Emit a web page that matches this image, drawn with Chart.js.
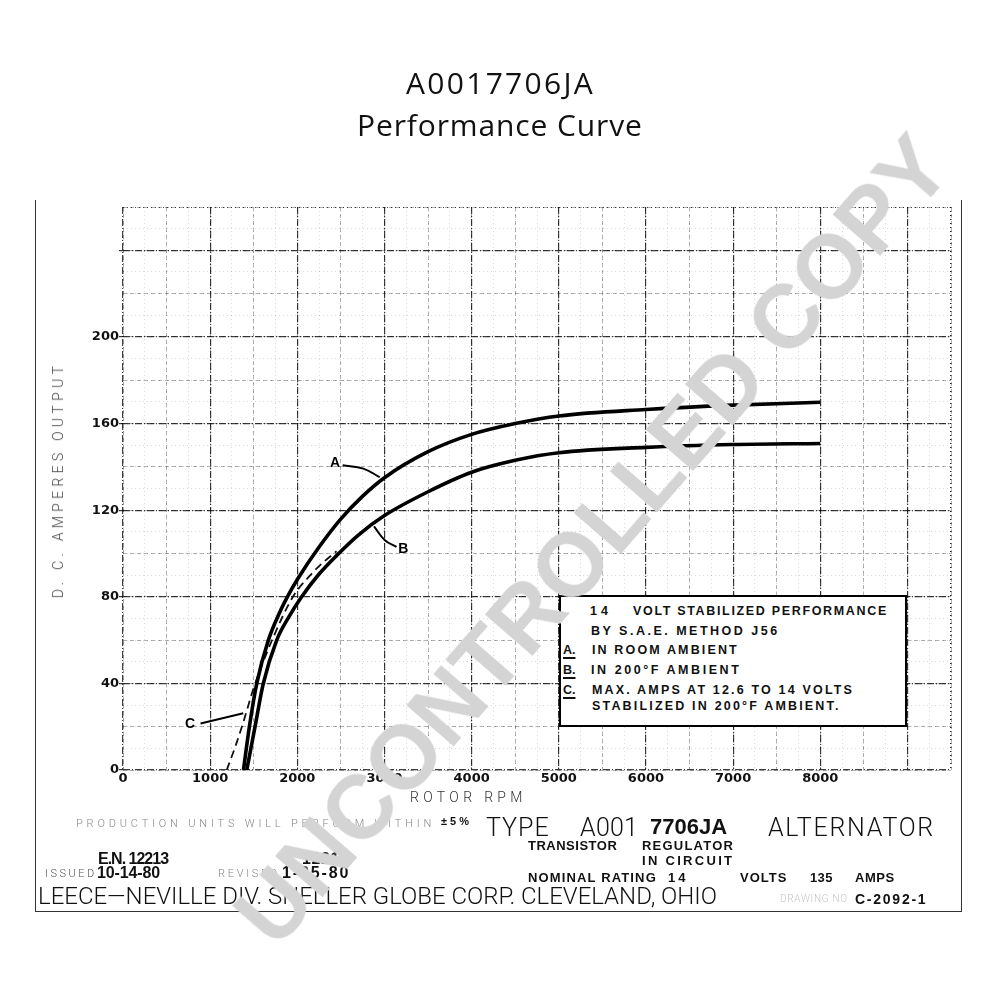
<!DOCTYPE html>
<html><head><meta charset="utf-8">
<script src="https://cdn.jsdelivr.net/npm/chart.js@4.4.1/dist/chart.umd.min.js"></script>
<style>
html,body{margin:0;padding:0;background:#fff;}
#wrap{position:relative;width:1000px;height:1000px;overflow:hidden;}
#c{position:absolute;left:0;top:0;}
.t{position:absolute;white-space:nowrap;line-height:1;color:#111;}
.thin{font-family:Roboto,"DejaVu Sans",sans-serif;font-weight:300;}
.bold{font-family:"Liberation Sans",Arial,sans-serif;font-weight:700;}
.narrow{font-family:"Liberation Sans Narrow","Liberation Sans",sans-serif;font-weight:700;}
#frame{position:absolute;left:35px;top:200px;width:927px;height:712px;border-left:1.5px solid #333;border-right:1.5px solid #333;border-bottom:1.5px solid #333;box-sizing:border-box;}
#legend{position:absolute;left:559px;top:595px;width:348px;height:132px;border:2px solid #000;background:#fff;box-sizing:border-box;}
#legend .t{font-size:12.5px;}
.u{text-decoration:underline;text-decoration-thickness:2px;text-underline-offset:3px;}
#wm{position:absolute;left:592px;top:540px;transform:translate(-50%,-50%) rotate(-49deg);font-family:"Liberation Sans",Arial,sans-serif;font-weight:700;font-size:90px;color:rgb(212,212,212);white-space:nowrap;line-height:1;}
</style></head><body>
<div id="wrap">
<div id="frame"></div>
<canvas id="c" width="1000" height="1000"></canvas>

<div class="t" style="left:406px;top:62px;font:30px 'Open Sans',sans-serif;" data-w="189">A0017706JA</div>
<div class="t" style="left:357px;top:104px;font:30px 'Open Sans',sans-serif;" data-w="286">Performance Curve</div>

<div class="t thin" id="ylab" style="left:58px;top:480px;font-size:14px;color:#444;transform:translate(-50%,-50%) rotate(-90deg);" data-w="236">D. C. AMPERES OUTPUT</div>
<div class="t thin" style="left:410px;top:790px;font-size:14px;color:#333;" data-w="117">ROTOR RPM</div>

<div id="legend">
  <div class="t bold" style="left:29px;top:8px;" data-w="22">14</div>
  <div class="t bold" style="left:72px;top:8px;" data-w="255">VOLT STABILIZED PERFORMANCE</div>
  <div class="t bold" style="left:30px;top:28px;" data-w="189">BY S.A.E. METHOD J56</div>
  <div class="t bold u" style="left:2px;top:47px;">A.</div>
  <div class="t bold" style="left:31px;top:47px;" data-w="147">IN ROOM AMBIENT</div>
  <div class="t bold u" style="left:2px;top:67px;">B.</div>
  <div class="t bold" style="left:30px;top:67px;" data-w="150">IN 200°F AMBIENT</div>
  <div class="t bold u" style="left:2px;top:87px;">C.</div>
  <div class="t bold" style="left:31px;top:87px;" data-w="262">MAX. AMPS AT 12.6 TO 14 VOLTS</div>
  <div class="t bold" style="left:31px;top:103px;" data-w="249">STABILIZED IN 200°F AMBIENT.</div>
</div>

<div class="t thin" style="left:76px;top:818px;font-size:11px;color:#888;" data-w="359">PRODUCTION UNITS WILL PERFORM WITHIN</div>
<div class="t bold" style="left:441px;top:816px;font-size:11px;" data-w="31">±5%</div>

<div class="t thin" style="left:486px;top:815px;font-size:25px;" data-w="64">TYPE</div>
<div class="t thin" style="left:580px;top:815px;font-size:25px;" data-w="58">A001</div>
<div class="t bold" style="left:650px;top:816px;font-size:22px;" data-w="77">7706JA</div>
<div class="t thin" style="left:768px;top:815px;font-size:25px;" data-w="167">ALTERNATOR</div>

<div class="t bold" style="left:528px;top:839px;font-size:13px;" data-w="89">TRANSISTOR</div>
<div class="t bold" style="left:642px;top:839px;font-size:13px;" data-w="92">REGULATOR</div>
<div class="t bold" style="left:642px;top:854px;font-size:13px;" data-w="92">IN CIRCUIT</div>
<div class="t bold" style="left:528px;top:871px;font-size:13px;" data-w="129">NOMINAL RATING</div>
<div class="t bold" style="left:668px;top:871px;font-size:13px;" data-w="20">14</div>
<div class="t bold" style="left:740px;top:871px;font-size:13px;" data-w="47">VOLTS</div>
<div class="t bold" style="left:810px;top:871px;font-size:13px;" data-w="23">135</div>
<div class="t bold" style="left:855px;top:871px;font-size:13px;" data-w="40">AMPS</div>

<div class="t narrow" style="left:98px;top:851px;font-size:16px;" data-w="70">E.N. 12213</div>
<div class="t thin" style="left:45px;top:868px;font-size:11px;color:#555;" data-w="52">ISSUED</div>
<div class="t narrow" style="left:97px;top:865px;font-size:16px;" data-w="63">10-14-80</div>
<div class="t thin" style="left:218px;top:868px;font-size:11px;color:#888;" data-w="62">REVISED</div>
<div class="t narrow" style="left:302px;top:851px;font-size:16px;" data-w="48">12215</div>
<div class="t narrow" style="left:282px;top:865px;font-size:16px;" data-w="68">1-25-80</div>

<div class="t thin" style="left:38px;top:884px;font-size:24px;" data-w="679">LEECE—NEVILLE  DIV. SHELLER GLOBE CORP. CLEVELAND, OHIO</div>
<div class="t thin" style="left:780px;top:894px;font-size:10px;color:#c4c4c4;" data-w="68">DRAWING NO</div>
<div class="t bold" style="left:855px;top:892px;font-size:14px;" data-w="72">C-2092-1</div>

<div id="wm">UNCONTROLLED COPY</div>
</div>
<script>
// ---- data ----
const rpmA  = [1382,1450,1535,1668,1800,1900,2000,2250,2500,2750,3000,3500,4000,4500,5000,6000,7000,8000];
const ampsA = [0,20,40,60,73,81,88,103,116,126.5,135,147,155,160,163.5,166.5,168.5,169.8];
const rpmB  = [1420,1515,1610,1764,1900,2050,2250,2450,2700,3000,3500,4000,4500,5000,6000,7000,8000];
const ampsB = [0,20,40,60,70.5,80,90.5,99,108.5,117.5,128.5,137.5,143,146.5,149,150.3,150.8];
const rpmC  = [1190,1290,1380,1500,1700,1950,2150,2300,2450];
const ampsC = [0,11,22,38,59,80,90,96,101];

const leadArpm = [2520,2757,2945], leadAamps = [140.7,139.2,135.2];
const leadBrpm = [2880,3005,3138], leadBamps = [112.5,106.1,103];
const leadCrpm = [890,1380],       leadCamps = [21.5,26.2];

const noteText = ['A','B','C'];
const noteRpm  = [2432,3215,770];
const noteAmps = [141.5,102,21];

// major grid positions and the labelled subset
const xMajor = [0,1000,2000,3000,4000,5000,6000,7000,8000,9000];
const yMajor = [0,40,80,120,160,200,240];
const xTickLabels = [0,1000,2000,3000,4000,5000,6000,7000,8000];
const yTickLabels = [0,40,80,120,160,200];

const pts = (xs,ys)=>xs.map((x,i)=>({x:x,y:ys[i]}));

// ---- fit text widths ----
document.querySelectorAll('[data-w]').forEach(el=>{
  el.style.letterSpacing='0px';
  const w=el.offsetWidth, n=el.textContent.length, target=+el.dataset.w;
  el.style.letterSpacing=((target-w)/n)+'px';
});

const notes = {
  id:'notes',
  afterDatasetsDraw(chart){
    const {ctx, scales:{x,y}} = chart;
    ctx.save();
    ctx.font='bold 14px "Liberation Sans", Arial, sans-serif';
    ctx.fillStyle='#000'; ctx.textAlign='center'; ctx.textBaseline='middle';
    noteText.forEach((t,i)=>ctx.fillText(t, x.getPixelForValue(noteRpm[i]), y.getPixelForValue(noteAmps[i])));
    ctx.restore();
  }
};

const tickFont = {family:'"DejaVu Sans", "Liberation Sans", sans-serif', weight:'bold', size:13};
const hiddenTicks = {display:false, autoSkip:false, includeBounds:false};

new Chart(document.getElementById('c'), {
  type:'scatter',
  data:{datasets:[
    {data:pts(rpmA,ampsA), showLine:true, borderColor:'#000', borderWidth:3.6, cubicInterpolationMode:'monotone', pointRadius:0},
    {data:pts(rpmB,ampsB), showLine:true, borderColor:'#000', borderWidth:3.6, cubicInterpolationMode:'monotone', pointRadius:0},
    {data:pts(rpmC,ampsC), showLine:true, borderColor:'#111', borderWidth:1.8, borderDash:[8,5], cubicInterpolationMode:'monotone', pointRadius:0},
    {data:pts(leadArpm,leadAamps), showLine:true, borderColor:'#000', borderWidth:2, tension:0.4, pointRadius:0},
    {data:pts(leadBrpm,leadBamps), showLine:true, borderColor:'#000', borderWidth:2, tension:0.4, pointRadius:0},
    {data:pts(leadCrpm,leadCamps), showLine:true, borderColor:'#000', borderWidth:2, pointRadius:0}
  ]},
  options:{
    responsive:false, animation:false, devicePixelRatio:1,
    layout:{padding:{left:0, top:207, right:49, bottom:200}},
    plugins:{legend:{display:false}, tooltip:{enabled:false}},
    elements:{point:{radius:0}},
    scales:{
      x:{type:'linear', position:'bottom', min:0, max:9500,
        afterBuildTicks(s){ s.ticks = xMajor.map(v=>({value:v})); },
        ticks:{autoSkip:false, maxRotation:0, minRotation:0, padding:1, color:'#111', font:tickFont,
          callback:v=>xTickLabels.includes(v)?String(v):''},
        grid:{color:'rgba(0,0,0,0.75)', lineWidth:1.2, drawTicks:false},
        border:{display:false, dash:[7,2,1,2]}, afterFit(s){s.height=30;}},
      y:{type:'linear', position:'left', min:0, max:260,
        afterBuildTicks(s){ s.ticks = yMajor.map(v=>({value:v})); },
        ticks:{autoSkip:false, padding:0, color:'#111', font:tickFont,
          callback:v=>yTickLabels.includes(v)?String(v):''},
        grid:{color:'rgba(0,0,0,0.75)', lineWidth:1.2, drawTicks:true, tickLength:4, tickColor:'rgba(0,0,0,0.8)'},
        border:{display:false, dash:[7,2,1,2]}, afterFit(s){s.width=123;}},
      xMid:{type:'linear', position:'bottom', min:0, max:9500,
        ticks:Object.assign({stepSize:500}, hiddenTicks),
        grid:{color:'rgba(0,0,0,0.3)', lineWidth:1, drawTicks:false},
        border:{display:false, dash:[4,3]}, afterFit(s){s.height=0;}},
      yMid:{type:'linear', position:'left', min:0, max:260,
        ticks:Object.assign({stepSize:20}, hiddenTicks),
        grid:{color:'rgba(0,0,0,0.3)', lineWidth:1, drawTicks:false},
        border:{display:false, dash:[4,3]}, afterFit(s){s.width=0;}},
      xFine:{type:'linear', position:'bottom', min:0, max:9500,
        ticks:Object.assign({stepSize:250}, hiddenTicks),
        grid:{color:c=>(c.tick && c.tick.value===9500)?'rgba(0,0,0,0.85)':'rgba(0,0,0,0.14)', lineWidth:c=>(c.tick && c.tick.value===9500)?1.5:1, drawTicks:false},
        border:{display:false, dash:[1,3]}, afterFit(s){s.height=0;}},
      yFine:{type:'linear', position:'left', min:0, max:260,
        ticks:Object.assign({stepSize:10}, hiddenTicks),
        grid:{color:c=>(c.tick && c.tick.value===260)?'rgba(0,0,0,0.7)':'rgba(0,0,0,0.14)', lineWidth:1, drawTicks:false},
        border:{display:false, dash:[1,3]}, afterFit(s){s.width=0;}}
    }
  },
  plugins:[notes]
});
</script>
</body></html>
